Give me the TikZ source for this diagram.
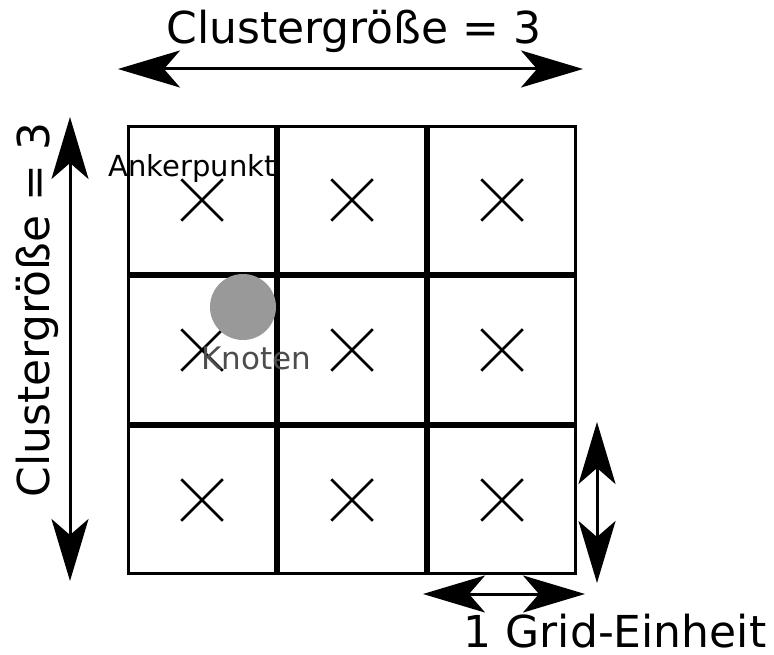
\documentclass[tikz,border=0pt]{standalone}
\usepackage{fontspec}
\setmainfont{DejaVu Sans}
\usepackage{xcolor}
\usetikzlibrary{arrows.meta, shapes.misc, positioning}

\definecolor{knotengrau}{RGB}{153,153,153}
\definecolor{knotentext}{RGB}{77,77,77}

\begin{document}
\begin{tikzpicture}[
    x=1pt, y=-1pt,
    zelle/.style={rectangle, draw, line width=3.2pt, minimum size=146.8pt, inner sep=0pt},
    kreuz/.style={cross out, draw, line width=2.5pt, minimum size=39pt, inner sep=0pt},
    knoten/.style={circle, fill=knotengrau, minimum size=66pt, inner sep=0pt},
    spitze/.tip={Stealth[length=62pt, width=37pt, inset=16pt]},
    masspfeil/.style={spitze-spitze, line width=3pt},
    gross/.style={font=\fontsize{44}{50}\selectfont, inner sep=0pt, anchor=base},
    klein/.style={font=\fontsize{29}{34}\selectfont, inner sep=0pt, anchor=base}
]
\useasboundingbox (0,0) rectangle (774,655);

\foreach \r in {1,2,3}
  \foreach \c in {1,2,3}
    \node[zelle] (z\r\c) at ({52+150*\c},{50+150*\r}) {};

\foreach \r in {1,2,3}
  \foreach \c in {1,2,3}
    \node[kreuz] (k\r\c) at (z\r\c) {};

\node[knoten] (knoten) at (243,307) {};
\node[klein] (anker) at (192,177) {Ankerpunkt};
\node[klein, text=knotentext, font=\fontsize{31}{36}\selectfont] (knotenname) at (256,369) {Knoten};

\node[gross] (breite) at (354,44) {Clustergröße = 3};
\node[gross, rotate=90] (hoehe) at (49,310) {Clustergröße = 3};
\node[gross] (einheit) at (615,647) {1 Grid-Einheit};

\coordinate (obenlinks) at (118,69);
\coordinate (obenrechts) at (583,69);
\coordinate (linksoben) at (70,117);
\coordinate (linksunten) at (70,581);
\coordinate (rechtsoben) at (597,422);
\coordinate (rechtsunten) at (597,583);
\coordinate (untenlinks) at (423,594);
\coordinate (untenrechts) at (585,594);

\draw[masspfeil] (obenlinks) -- (obenrechts);
\draw[masspfeil] (linksoben) -- (linksunten);
\draw[masspfeil] (rechtsoben) -- (rechtsunten);
\draw[masspfeil] (untenlinks) -- (untenrechts);

\end{tikzpicture}
\end{document}
